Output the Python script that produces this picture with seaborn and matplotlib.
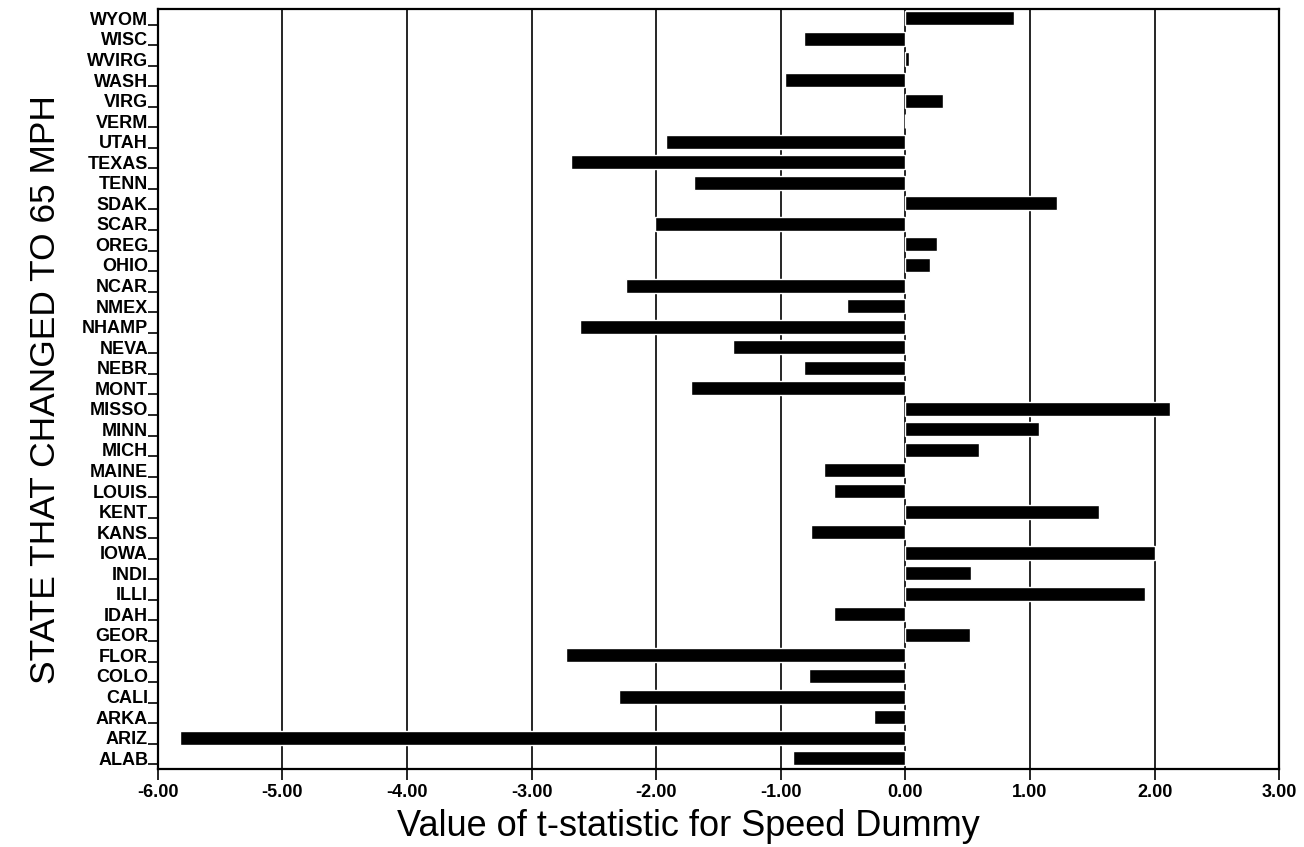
import matplotlib
matplotlib.use("Agg")
import matplotlib.pyplot as plt
import seaborn as sns
import pandas as pd
import numpy as np

states = ["WYOM", "WISC", "WVIRG", "WASH", "VIRG", "VERM", "UTAH", "TEXAS", "TENN",
          "SDAK", "SCAR", "OREG", "OHIO", "NCAR", "NMEX", "NHAMP", "NEVA", "NEBR",
          "MONT", "MISSO", "MINN", "MICH", "MAINE", "LOUIS", "KENT", "KANS", "IOWA",
          "INDI", "ILLI", "IDAH", "GEOR", "FLOR", "COLO", "CALI", "ARKA", "ARIZ", "ALAB"]
tstat = [0.87, -0.81, 0.03, -0.97, 0.30, 0.0, -1.92, -2.68, -1.70,
         1.22, -2.01, 0.25, 0.20, -2.24, -0.47, -2.61, -1.38, -0.81,
         -1.72, 2.12, 1.07, 0.59, -0.65, -0.57, 1.55, -0.76, 2.00,
         0.53, 1.92, -0.57, 0.52, -2.72, -0.77, -2.30, -0.25, -5.82, -0.90]
xticks = [-6, -5, -4, -3, -2, -1, 0, 1, 2, 3]

df = pd.DataFrame({"state": states, "t": tstat})

sns.set_style("white")
plt.rcParams["font.family"] = ["Liberation Sans", "DejaVu Sans"]
plt.rcParams["text.color"] = "black"
plt.rcParams["axes.labelcolor"] = "black"
plt.rcParams["xtick.color"] = "black"
plt.rcParams["ytick.color"] = "black"

fig = plt.figure(figsize=(13.04, 8.47), dpi=100)
ax = fig.add_axes([0.121, 0.092, 0.860, 0.897])

sns.barplot(data=df, x="t", y="state", order=states, orient="h",
            color="black", width=0.68, ax=ax, saturation=1)

ax.set_xlim(-6, 3)
ax.set_ylim(len(states) - 1 + 0.53, -0.44)
ax.set_axisbelow(True)
for v in xticks:
    ax.axvline(v, color="black", lw=1.2, zorder=0)

ax.set_xticks(xticks)
ax.set_xticklabels([f"{v:.2f}" for v in xticks], fontsize=13, fontweight="bold")
ax.tick_params(axis="x", which="major", bottom=True, direction="out", length=8,
               width=1.2, color="black", pad=3)

ax.set_yticks(range(len(states)))
ax.set_yticklabels(states, fontsize=13, fontweight="bold")
ax.tick_params(axis="y", which="major", left=False, length=0, pad=7)
ax.set_yticks(np.arange(len(states)) + 0.3, minor=True)
ax.tick_params(axis="y", which="minor", left=True, direction="out", length=7,
               width=1.2, color="black")

for s in ax.spines.values():
    s.set_visible(True)
    s.set_color("black")
    s.set_linewidth(1.6)

ax.set_xlabel("Value of t-statistic for Speed Dummy", fontsize=26)
ax.xaxis.set_label_coords(0.473, -0.052)
ax.set_ylabel("STATE THAT CHANGED TO 65 MPH", fontsize=25.5, labelpad=14)

fig.savefig("out.png", dpi=100)
